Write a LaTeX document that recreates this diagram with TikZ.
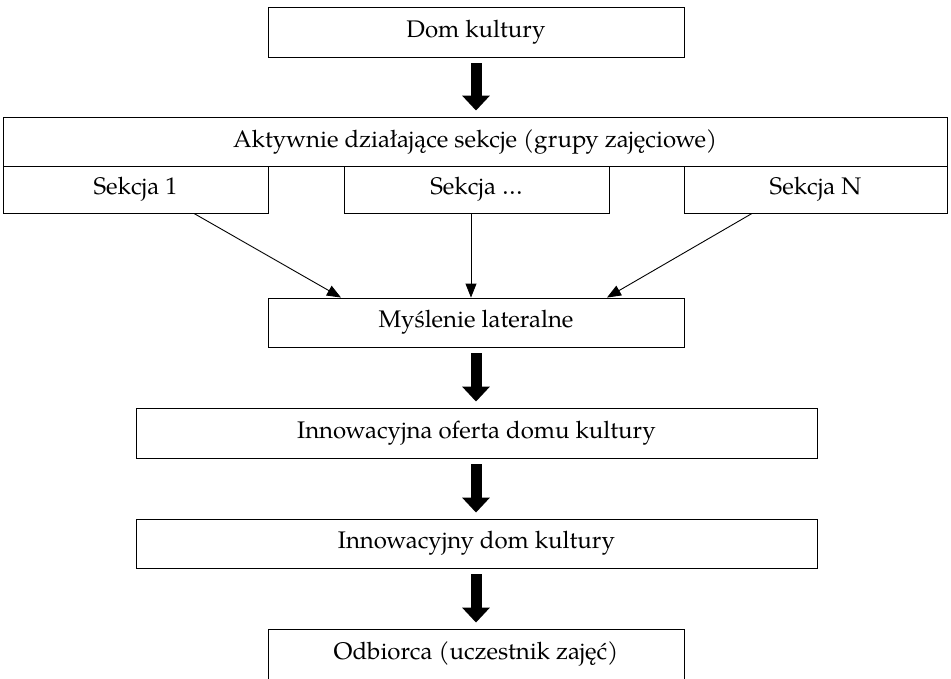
\documentclass[tikz,border=0pt]{standalone}
\usepackage{fontspec}
\setmainfont{texgyrepagella}[Extension=.otf, UprightFont=*-regular, BoldFont=*-bold, ItalicFont=*-italic, BoldItalicFont=*-bolditalic]
\usetikzlibrary{arrows.meta,calc}
\begin{document}
\begin{tikzpicture}[x=1pt,y=-1pt,
  box/.style={draw=black, line width=0.9pt, inner sep=0pt, font=\fontsize{24}{28}\selectfont},
  thinarrow/.style={draw=black, line width=0.9pt, -{Triangle[length=14pt,width=11pt]}},
  bigarrow/.style={draw=black, line width=11pt, -{Triangle[length=15pt,width=27pt]}, shorten <=6pt, shorten >=6pt}]
\clip (0,0) rectangle (951,678);
\node[box, minimum width=416pt, minimum height=50pt] (dom) at (476,32) {Dom kultury};
\node[box, minimum width=944pt, minimum height=49pt] (akt) at (475,141.5) {Aktywnie działające sekcje (grupy zajęciowe)};
\node[box, minimum width=265pt, minimum height=47pt] (s1) at (135.5,189.5) {Sekcja 1};
\node[box, minimum width=265pt, minimum height=47pt] (s2) at (476.5,189.5) {Sekcja …};
\node[box, minimum width=263pt, minimum height=47pt] (s3) at (815.5,189.5) {Sekcja N};
\node[box, minimum width=416pt, minimum height=49pt] (mysl) at (476,322.5) {Myślenie lateralne};
\node[box, minimum width=681pt, minimum height=50pt] (oferta) at (476.5,433) {Innowacyjna oferta domu kultury};
\node[box, minimum width=681pt, minimum height=49pt] (idk) at (476.5,543.5) {Innowacyjny dom kultury};
\node[box, minimum width=416pt, minimum height=50pt] (odb) at (476,654) {Odbiorca (uczestnik zajęć)};
\draw[bigarrow] (dom.south -| 476,0) -- (akt.north -| 476,0);
\draw[thinarrow] (s1.south -| 194,0) -- (mysl.north -| 341,0);
\draw[thinarrow] (s2.south -| 471,0) -- (mysl.north -| 471,0);
\draw[thinarrow] (s3.south -| 752,0) -- (mysl.north -| 607,0);
\draw[bigarrow] (mysl.south -| 476,0) -- (oferta.north -| 476,0);
\draw[bigarrow] (oferta.south -| 476,0) -- (idk.north -| 476,0);
\draw[bigarrow] (idk.south -| 476,0) -- (odb.north -| 476,0);
\end{tikzpicture}
\end{document}
